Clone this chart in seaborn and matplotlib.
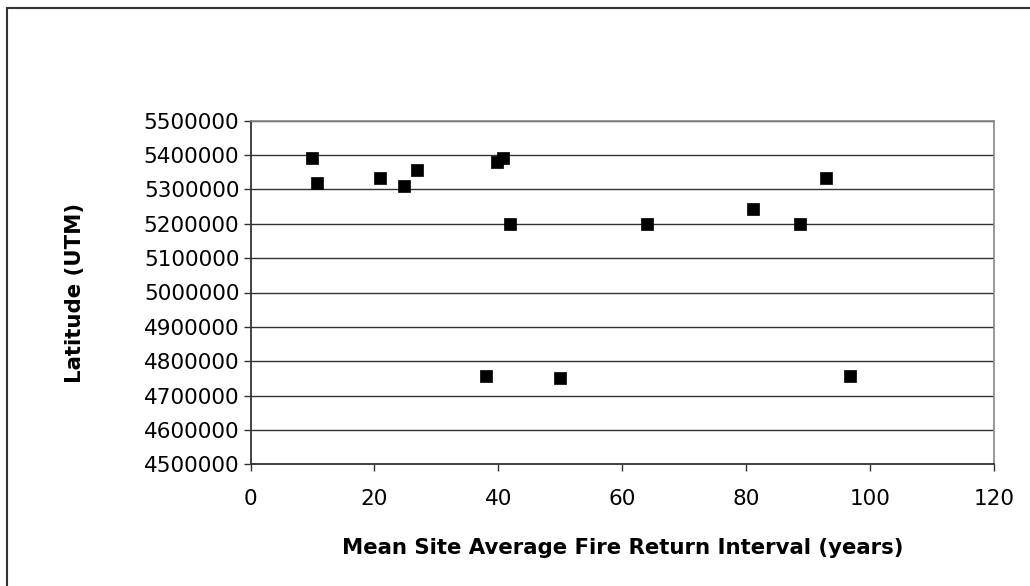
import matplotlib
matplotlib.use("Agg")
import matplotlib.pyplot as plt
import seaborn as sns
import pandas as pd
from matplotlib.patches import Rectangle

# ---- data ----
fire_return_interval = [10.0, 10.7, 20.9, 24.7, 26.8, 39.7, 40.8, 41.9,
                        63.9, 81.0, 88.7, 92.9, 38.0, 49.9, 96.8]
latitude_utm = [5392000, 5318000, 5334000, 5311000, 5357000, 5381000, 5392000, 5200000,
                5200000, 5242000, 5200000, 5334000, 4758000, 4752000, 4758000]
x_ticks = [0, 20, 40, 60, 80, 100, 120]
y_ticks = [4500000, 4600000, 4700000, 4800000, 4900000, 5000000,
           5100000, 5200000, 5300000, 5400000, 5500000]
x_label = "Mean Site Average Fire Return Interval (years)"
y_label = "Latitude (UTM)"

df = pd.DataFrame({"fri": fire_return_interval, "lat": latitude_utm})

sns.set_theme(style="white")
plt.rcParams["font.family"] = ["DejaVu Sans"]

fig = plt.figure(figsize=(10.30, 5.86), dpi=100)
ax = fig.add_axes([250.5 / 1030, 1 - 464.3 / 586, (994.3 - 250.5) / 1030, (464.3 - 120.7) / 586])

sns.scatterplot(data=df, x="fri", y="lat", marker="s", color="black",
                edgecolor="black", s=80, linewidth=0.5, ax=ax, zorder=3)

ax.set_xlim(x_ticks[0], x_ticks[-1])
ax.set_ylim(y_ticks[0], y_ticks[-1])
ax.set_xticks(x_ticks, [str(t) for t in x_ticks])
ax.set_yticks(y_ticks, [str(t) for t in y_ticks])
ax.tick_params(axis="both", which="major", labelsize=15.5, direction="out",
               length=5, width=1, color="#333333", pad=3, left=True, bottom=True,
               labelcolor="black")
ax.tick_params(axis="x", pad=13)

ax.yaxis.grid(True, color="#333333", linewidth=1.0)
ax.xaxis.grid(False)
ax.set_axisbelow(True)

for side in ["left", "bottom"]:
    ax.spines[side].set_color("#333333")
    ax.spines[side].set_linewidth(1.3)
for side in ["top", "right"]:
    ax.spines[side].set_color("#888888")
    ax.spines[side].set_linewidth(1.2)

ax.set_xlabel(x_label, fontsize=15.3, fontweight="bold", labelpad=21, color="black")
ax.set_ylabel(y_label, fontsize=15.3, fontweight="bold", color="black")
ax.yaxis.set_label_coords((85 - 250.5) / 743.8, 0.5)

# outer chart border (Excel style), extending past right and bottom edges
fig.patches.append(Rectangle((7 / 1030, -0.5), 1.5, 1.5 - 8 / 586,
                             transform=fig.transFigure, fill=False,
                             edgecolor="#333333", linewidth=1.5))

fig.savefig("out.png", dpi=100)
